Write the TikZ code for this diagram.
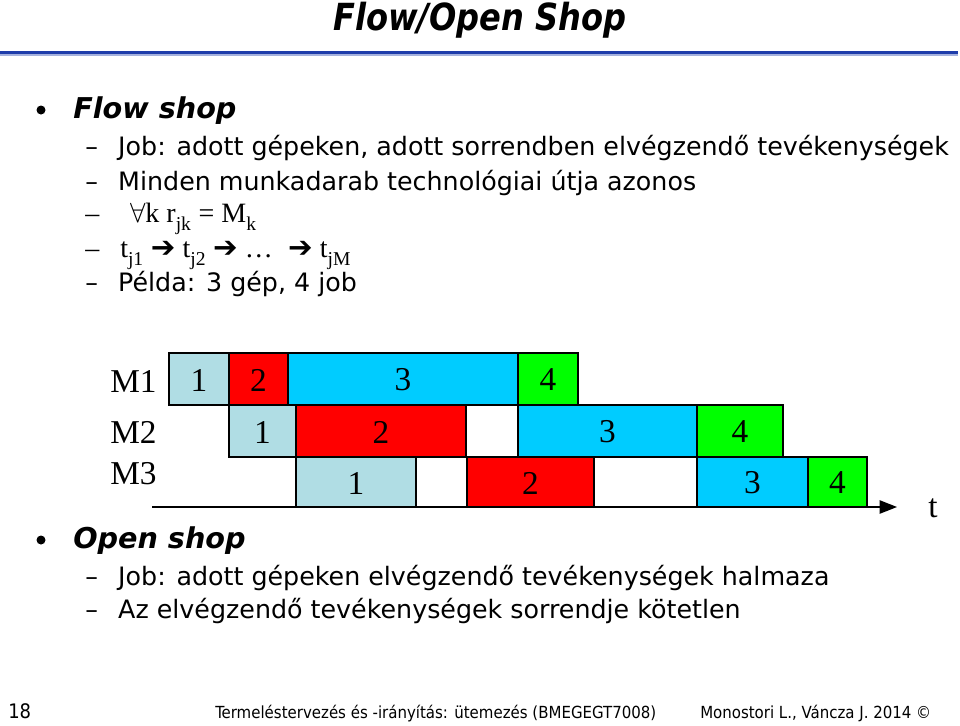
\documentclass[tikz,border=0pt]{standalone}
\usepackage{fontspec}
\setmainfont{DejaVu Sans}
\newfontfamily\tms{Liberation Serif}
\newfontfamily\dcond{DejaVu Sans Condensed}
\usetikzlibrary{arrows.meta}
\definecolor{lb}{RGB}{176,221,228}
\definecolor{cy}{RGB}{0,204,255}
\definecolor{gr}{RGB}{0,255,0}
\definecolor{tl}{RGB}{30,60,170}
\tikzset{
 body/.style={anchor=base west,inner sep=0pt,font=\fontsize{19}{22}\selectfont},
 head/.style={anchor=base west,inner sep=0pt,font=\fontsize{21.5}{24}\selectfont\bfseries\itshape},
 ser/.style={anchor=base west,inner sep=0pt,font=\fontsize{21}{24}\tms},
 num/.style={inner sep=0pt,font=\fontsize{25}{28}\tms},
 foot/.style={anchor=base west,inner sep=0pt,font=\fontsize{12.5}{14}\dcond},
 box/.style={draw=black,line width=1pt}
}
\newcommand{\gb}[7]{\path[box,fill=#6] (#1,#3) rectangle (#2,#4);
 \node[num] (#7) at ({(#1+#2)/2},{(#3+#4)/2+1}) {#5};}
\newcommand{\ar}{{\fontspec{DejaVu Sans}\bfseries\fontsize{22}{24}\selectfont ➔}}
\begin{document}
\begin{tikzpicture}[x=0.75pt,y=-0.75pt]
\useasboundingbox (0,0) rectangle (960,725);
\node[anchor=base,inner sep=0pt,xscale=0.86,font=\fontsize{28}{32}\selectfont\bfseries\itshape] (title) at (480,30) {Flow/Open Shop};
\fill[tl] (0,51) rectangle (958,54);
\fill[tl!40] (0,54) rectangle (958,55.5);
% Flow shop
\fill (41,110) circle (4.5);
\node[head] (fs) at (73,118) {Flow shop};
\node[body] (l1) at (85,155) {–\hspace{0.8em}Job: adott gépeken, adott sorrendben elvégzendő tevékenységek};
\node[body] (l2) at (85,190) {–\hspace{0.8em}Minden munkadarab technológiai útja azonos};
\node[ser] (l3) at (85,222) {–\hspace{1.1em}$\forall$k r\textsubscript{\raisebox{-0.5ex}{jk}} = M\textsubscript{\raisebox{-0.5ex}{k}}};
\node[ser] (l4) at (85,257) {–\hspace{0.75em}t\textsubscript{\raisebox{-0.5ex}{j1}} \ar{} t\textsubscript{\raisebox{-0.5ex}{j2}} \ar{} …\hspace{0.3em} \ar{} t\textsubscript{\raisebox{-0.5ex}{jM}}};
\node[body] (l5) at (85,291) {–\hspace{0.8em}Példa: 3 gép, 4 job};
% Gantt
\node[num,anchor=base west] (m1) at (110,392) {M1};
\node[num,anchor=base west] (m2) at (110,443) {M2};
\node[num,anchor=base west] (m3) at (110,484) {M3};
\gb{169}{229}{353}{405}{1}{lb}{a1}
\gb{229}{288}{353}{405}{2}{red}{a2}
\gb{288}{518}{353}{405}{3}{cy}{a3}
\gb{518}{578}{353}{405}{4}{gr}{a4}
\gb{229}{296}{405}{457}{1}{lb}{b1}
\gb{296}{466}{405}{457}{2}{red}{b2}
\gb{518}{697}{405}{457}{3}{cy}{b3}
\gb{697}{783}{405}{457}{4}{gr}{b4}
\gb{296}{416}{457}{507}{1}{lb}{c1}
\gb{467}{594}{457}{507}{2}{red}{c2}
\gb{697}{808}{457}{507}{3}{cy}{c3}
\gb{808}{867}{457}{507}{4}{gr}{c4}
\coordinate (ax0) at (152,507);
\coordinate (ax1) at (897,507);
\draw[line width=1pt,-{Triangle[length=13pt,width=10pt]}] (ax0) -- (ax1);
\node[num] (t) at (933,508) {t};
% Open shop
\fill (41,540) circle (4.5);
\node[head] (os) at (73,548) {Open shop};
\node[body] (o1) at (85,585) {–\hspace{0.8em}Job: adott gépeken elvégzendő tevékenységek halmaza};
\node[body] (o2) at (85,618) {–\hspace{0.8em}Az elvégzendő tevékenységek sorrendje kötetlen};
% footer
\node[anchor=base west,inner sep=0pt,font=\fontsize{15}{16}\dcond] (pg) at (8,718) {18};
\node[foot] (f1) at (215,718) {Termeléstervezés és -irányítás: ütemezés (BMEGEGT7008)};
\node[foot] (f2) at (700,718) {Monostori L., Váncza J. 2014 ©};
\end{tikzpicture}
\end{document}
